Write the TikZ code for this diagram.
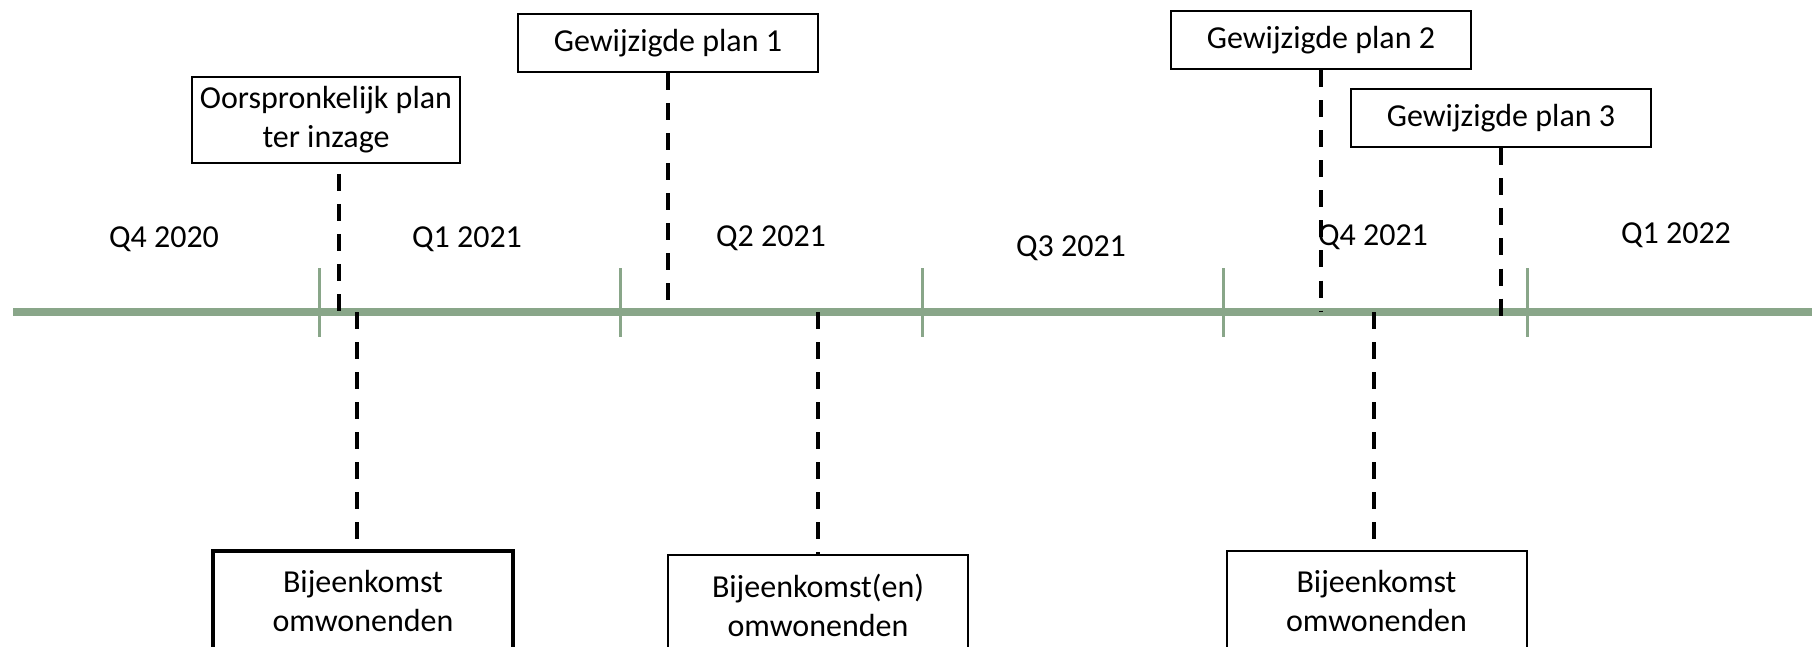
\documentclass[tikz,border=0pt]{standalone}
\usepackage{fontspec}
\setmainfont{Carlito}
\usetikzlibrary{positioning}
\definecolor{axisgreen}{RGB}{137,166,137}

\begin{document}
\begin{tikzpicture}[
    x=0.5pt, y=-0.5pt,
    qlabel/.style={font=\fontsize{16}{19.5}\selectfont},
    planbox/.style={draw, line width=1pt, inner sep=0pt,
                    minimum width=150pt, minimum height=29pt,
                    align=center, font=\fontsize{16}{19.5}\selectfont},
    meetbox/.style={planbox, minimum height=50pt},
    eventline/.style={line width=2pt, dash pattern=on 8.5pt off 6.5pt},
    tickmark/.style={axisgreen, line width=1.5pt}
]
\useasboundingbox (0,0) rectangle (1812,647);
\clip (0,0) rectangle (1812,647);

% --- AXIS ---
\coordinate (axisL) at (13,312);
\coordinate (axisR) at (1812,312);
\draw[axisgreen, line width=4pt] (axisL) -- (axisR);
\foreach \x in {319,620,922,1223,1527}
  \draw[tickmark] (\x,268) -- (\x,337);

% --- QUARTERS ---
\node[qlabel] (q4y20) at (164,239) {Q4 2020};
\node[qlabel] (q1y21) at (467,239) {Q1 2021};
\node[qlabel] (q2y21) at (771,238) {Q2 2021};
\node[qlabel] (q3y21) at (1071,248) {Q3 2021};
\node[qlabel] (q4y21) at (1373,237) {Q4 2021};
\node[qlabel] (q1y22) at (1676,235) {Q1 2022};

% --- PLANS ---
\node[planbox, minimum width=134pt, minimum height=43pt] (orig) at (326,120)
  {Oorspronkelijk plan\\ter inzage};
\node[planbox] (plan1) at (668,43) {Gewijzigde plan 1};
\node[planbox] (plan2) at (1321,40.5) {Gewijzigde plan 2};
\node[planbox] (plan3) at (1501,118.5) {Gewijzigde plan 3};

\coordinate (e0) at (339,312);
\coordinate (e1) at (668,312);
\coordinate (e2) at (1321,312);
\coordinate (e3) at (1501,318);
\draw[eventline] ([yshift=-5pt]orig.south -| e0) -- (e0);
\draw[eventline] (plan1.south) -- (e1);
\draw[eventline] (plan2.south) -- (e2);
\draw[eventline] (plan3.south) -- (e3);

% --- MEETINGS ---
\node[meetbox, line width=1.8pt] (meet1) at (363,601) {Bijeenkomst\\omwonenden};
\node[meetbox] (meet2) at (818,605) {Bijeenkomst(en)\\omwonenden};
\node[meetbox] (meet3) at (1376.5,601) {Bijeenkomst\\omwonenden};

\coordinate (m1) at (357,312);
\coordinate (m2) at (818,312);
\coordinate (m3) at (1374,312);
\draw[eventline] (m1) -- (m1 |- meet1.north);
\draw[eventline] (m2) -- (meet2.north);
\draw[eventline] (m3) -- (m3 |- meet3.north);

\end{tikzpicture}
\end{document}
